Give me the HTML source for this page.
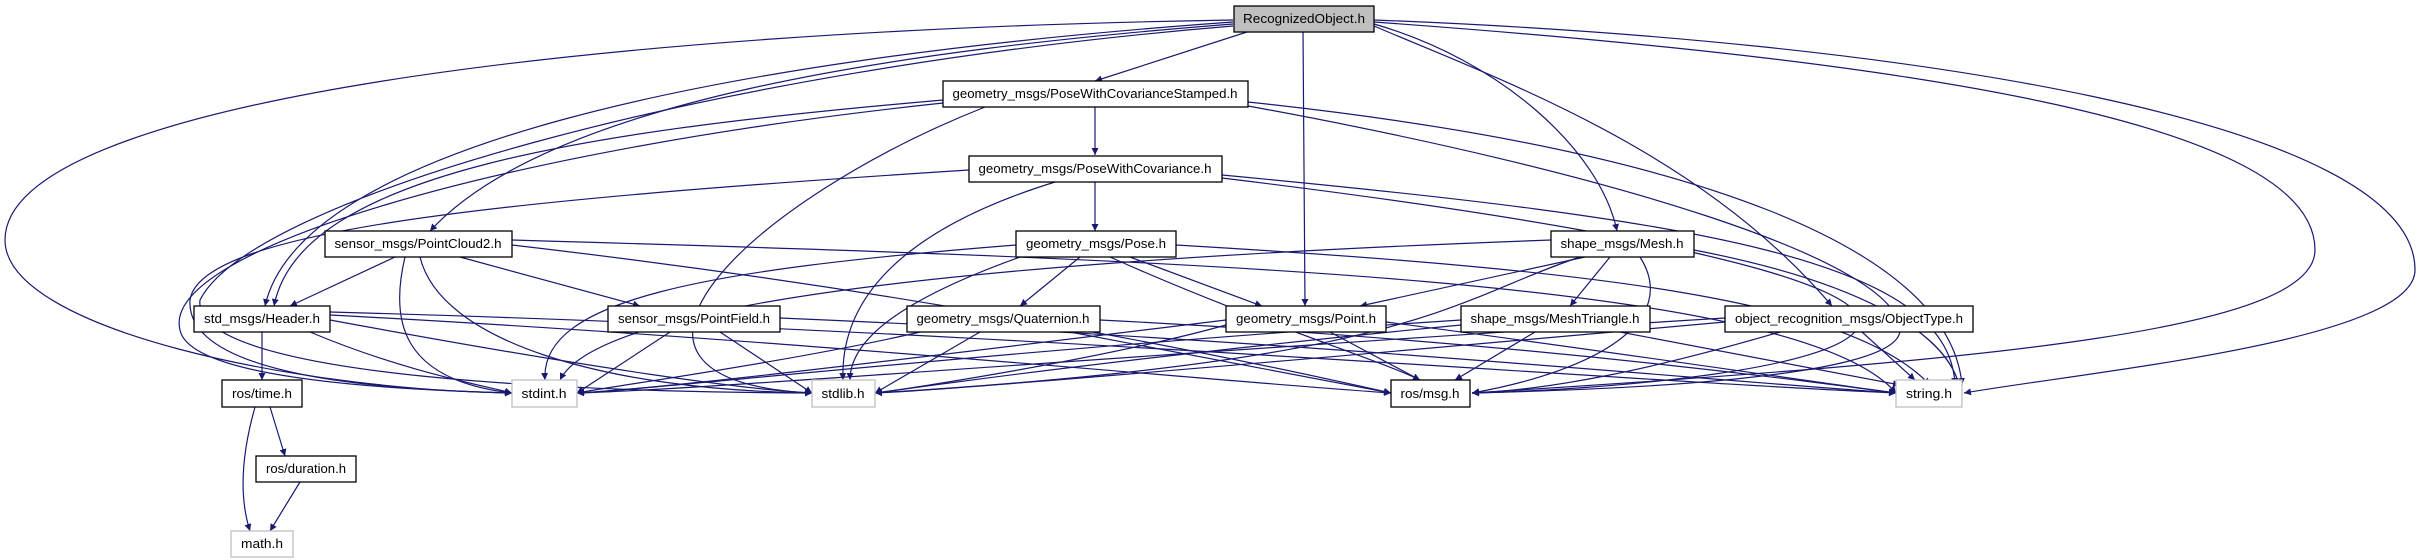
<!DOCTYPE html>
<html><head><meta charset="utf-8"><style>
html,body{margin:0;padding:0;background:#fff;}
svg{display:block;}
text{font-family:"Liberation Sans",sans-serif;font-size:13px;fill:#000;}
.e{fill:none;stroke:#191970;stroke-width:1.2;}
</style></head><body>
<svg width="2421" height="560" viewBox="0 0 2421 560" xmlns="http://www.w3.org/2000/svg">
<defs>
<marker id="a" viewBox="0 0 10 10" refX="10" refY="5" markerWidth="7" markerHeight="7" markerUnits="userSpaceOnUse" orient="auto">
<path d="M0,0 L10,5 L0,10 z" fill="#191970"/>
</marker>
</defs>
<g class="e" marker-end="url(#a)">
<!-- RecognizedObject -->
<path d="M1250,31 L1095,81"/>
<path d="M1303,31 L1305,306"/>
<path d="M1374,24 C1500,60 1600,150 1617,231"/>
<path d="M1374,26 C1500,80 1700,150 1832,306"/>
<path d="M1374,20 C1900,40 2415,120 2415,270 C2415,340 2100,370 1964,393"/>
<path d="M1374,22 C1900,60 2315,120 2315,250 C2315,330 2000,360 1472,393"/>
<path d="M1233,20 C600,30 5,100 5,240 C5,330 300,390 512,393"/>
<path d="M1233,22 C700,60 300,150 265,306"/>
<path d="M1233,24 C900,50 550,100 430,231"/>
<path d="M1233,26 C700,70 250,200 200,300 C190,380 600,392 812,393"/>
<!-- PWCS -->
<path d="M1095,107 L1095,155"/>
<path d="M943,100 C600,130 300,170 274,306"/>
<path d="M943,103 C500,150 160,250 180,330 C190,380 400,390 512,393"/>
<path d="M985,107 C750,200 560,380 812,393"/>
<path d="M1248,102 C1700,150 1950,250 1962,385"/>
<path d="M1248,106 C1600,170 1900,260 1900,330 C1900,380 1600,390 1472,393"/>
<!-- PWC -->
<path d="M1095,182 L1095,231"/>
<path d="M1055,182 C900,230 840,300 843,380"/>
<path d="M969,170 C500,200 200,230 190,300 C185,380 400,390 512,393"/>
<path d="M1222,175 C1700,220 1950,260 1955,385"/>
<path d="M1222,178 C1650,230 1850,280 1860,320 C1860,370 1600,390 1472,393"/>
<!-- PointCloud2 -->
<path d="M395,257 L290,306"/>
<path d="M460,257 L640,306"/>
<path d="M405,257 C390,320 400,380 512,393"/>
<path d="M420,257 C440,340 600,390 812,393"/>
<path d="M512,245 C900,290 1200,350 1391,393"/>
<path d="M512,240 C1200,260 1800,280 1896,393"/>
<!-- Pose -->
<path d="M1080,257 L1020,306"/>
<path d="M1130,257 L1262,306"/>
<path d="M1016,245 C700,270 540,300 545,380"/>
<path d="M1020,257 C900,300 850,340 850,380"/>
<path d="M1110,257 C1250,320 1380,360 1420,380"/>
<path d="M1176,245 C1600,270 1850,300 1930,385"/>
<!-- Header -->
<path d="M262,332 L262,380"/>
<path d="M310,332 C400,370 480,385 512,393"/>
<path d="M330,320 C600,370 750,390 812,393"/>
<path d="M330,315 C800,340 1200,380 1391,393"/>
<path d="M330,312 C1000,330 1600,380 1896,393"/>
<!-- PointField -->
<path d="M670,332 L577,393"/>
<path d="M720,332 L812,393"/>
<path d="M780,318 C1300,340 1700,380 1896,393"/>
<!-- Quaternion -->
<path d="M920,332 C800,360 620,385 577,393"/>
<path d="M980,332 L875,393"/>
<path d="M1070,332 L1391,393"/>
<path d="M1100,320 C1500,340 1800,380 1896,393"/>
<!-- Point -->
<path d="M1330,332 L1420,380"/>
<path d="M1226,320 C900,360 650,390 577,393"/>
<path d="M1226,325 C1100,360 900,390 875,393"/>
<path d="M1386,322 C1600,350 1800,380 1896,393"/>
<!-- Mesh -->
<path d="M1585,257 L1360,306"/>
<path d="M1610,257 L1570,306"/>
<path d="M1640,257 C1680,320 1600,370 1472,393"/>
<path d="M1694,250 C1850,280 1950,330 1960,390"/>
<path d="M1551,240 C1000,260 600,300 560,380"/>
<path d="M1580,257 C1450,300 1420,360 875,393"/>
<!-- MeshTriangle -->
<path d="M1535,332 L1455,380"/>
<path d="M1620,332 L1900,385"/>
<path d="M1461,320 C1000,350 650,390 577,393"/>
<path d="M1461,325 C1100,360 900,390 875,393"/>
<!-- ObjectType -->
<path d="M1862,332 L1915,380"/>
<path d="M1780,332 C1650,370 1550,390 1472,393"/>
<path d="M1725,318 C1200,350 700,390 577,393"/>
<path d="M1725,322 C1300,360 950,390 875,393"/>
<!-- ros -->
<path d="M270,407 L285,456"/>
<path d="M255,407 C240,460 240,500 250,531"/>
<path d="M300,482 L270,531"/>
</g>
<g stroke-width="1.3">
<rect x="1234" y="6" width="140" height="26" fill="#bfbfbf" stroke="#000"/>
<text x="1304" y="23" text-anchor="middle" textLength="122" lengthAdjust="spacingAndGlyphs">RecognizedObject.h</text>
<rect x="943" y="81" width="305" height="26" fill="#fff" stroke="#000"/>
<text x="1095" y="98" text-anchor="middle" textLength="285" lengthAdjust="spacingAndGlyphs">geometry_msgs/PoseWithCovarianceStamped.h</text>
<rect x="969" y="156" width="253" height="26" fill="#fff" stroke="#000"/>
<text x="1095" y="173" text-anchor="middle" textLength="233" lengthAdjust="spacingAndGlyphs">geometry_msgs/PoseWithCovariance.h</text>
<rect x="325" y="231" width="187" height="26" fill="#fff" stroke="#000"/>
<text x="418" y="248" text-anchor="middle" textLength="167" lengthAdjust="spacingAndGlyphs">sensor_msgs/PointCloud2.h</text>
<rect x="1016" y="231" width="160" height="26" fill="#fff" stroke="#000"/>
<text x="1096" y="248" text-anchor="middle" textLength="140" lengthAdjust="spacingAndGlyphs">geometry_msgs/Pose.h</text>
<rect x="1551" y="231" width="143" height="26" fill="#fff" stroke="#000"/>
<text x="1622" y="248" text-anchor="middle" textLength="123" lengthAdjust="spacingAndGlyphs">shape_msgs/Mesh.h</text>
<rect x="194" y="306" width="136" height="26" fill="#fff" stroke="#000"/>
<text x="262" y="323" text-anchor="middle" textLength="116" lengthAdjust="spacingAndGlyphs">std_msgs/Header.h</text>
<rect x="608" y="306" width="172" height="26" fill="#fff" stroke="#000"/>
<text x="694" y="323" text-anchor="middle" textLength="152" lengthAdjust="spacingAndGlyphs">sensor_msgs/PointField.h</text>
<rect x="907" y="306" width="193" height="26" fill="#fff" stroke="#000"/>
<text x="1003" y="323" text-anchor="middle" textLength="173" lengthAdjust="spacingAndGlyphs">geometry_msgs/Quaternion.h</text>
<rect x="1226" y="306" width="160" height="26" fill="#fff" stroke="#000"/>
<text x="1306" y="323" text-anchor="middle" textLength="140" lengthAdjust="spacingAndGlyphs">geometry_msgs/Point.h</text>
<rect x="1461" y="306" width="189" height="26" fill="#fff" stroke="#000"/>
<text x="1555" y="323" text-anchor="middle" textLength="169" lengthAdjust="spacingAndGlyphs">shape_msgs/MeshTriangle.h</text>
<rect x="1725" y="306" width="248" height="26" fill="#fff" stroke="#000"/>
<text x="1849" y="323" text-anchor="middle" textLength="228" lengthAdjust="spacingAndGlyphs">object_recognition_msgs/ObjectType.h</text>
<rect x="222" y="380" width="80" height="27" fill="#fff" stroke="#000"/>
<text x="262" y="398" text-anchor="middle" textLength="60" lengthAdjust="spacingAndGlyphs">ros/time.h</text>
<rect x="512" y="380" width="65" height="27" fill="#fff" stroke="#bfbfbf"/>
<text x="544" y="398" text-anchor="middle" textLength="45" lengthAdjust="spacingAndGlyphs">stdint.h</text>
<rect x="812" y="380" width="63" height="27" fill="#fff" stroke="#bfbfbf"/>
<text x="843" y="398" text-anchor="middle" textLength="43" lengthAdjust="spacingAndGlyphs">stdlib.h</text>
<rect x="1391" y="380" width="79" height="27" fill="#fff" stroke="#000"/>
<text x="1430" y="398" text-anchor="middle" textLength="59" lengthAdjust="spacingAndGlyphs">ros/msg.h</text>
<rect x="1896" y="380" width="66" height="27" fill="#fff" stroke="#bfbfbf"/>
<text x="1929" y="398" text-anchor="middle" textLength="46" lengthAdjust="spacingAndGlyphs">string.h</text>
<rect x="256" y="456" width="100" height="26" fill="#fff" stroke="#000"/>
<text x="306" y="473" text-anchor="middle" textLength="80" lengthAdjust="spacingAndGlyphs">ros/duration.h</text>
<rect x="231" y="531" width="62" height="26" fill="#fff" stroke="#bfbfbf"/>
<text x="262" y="548" text-anchor="middle" textLength="42" lengthAdjust="spacingAndGlyphs">math.h</text>
</g>
</svg>
</body></html>
